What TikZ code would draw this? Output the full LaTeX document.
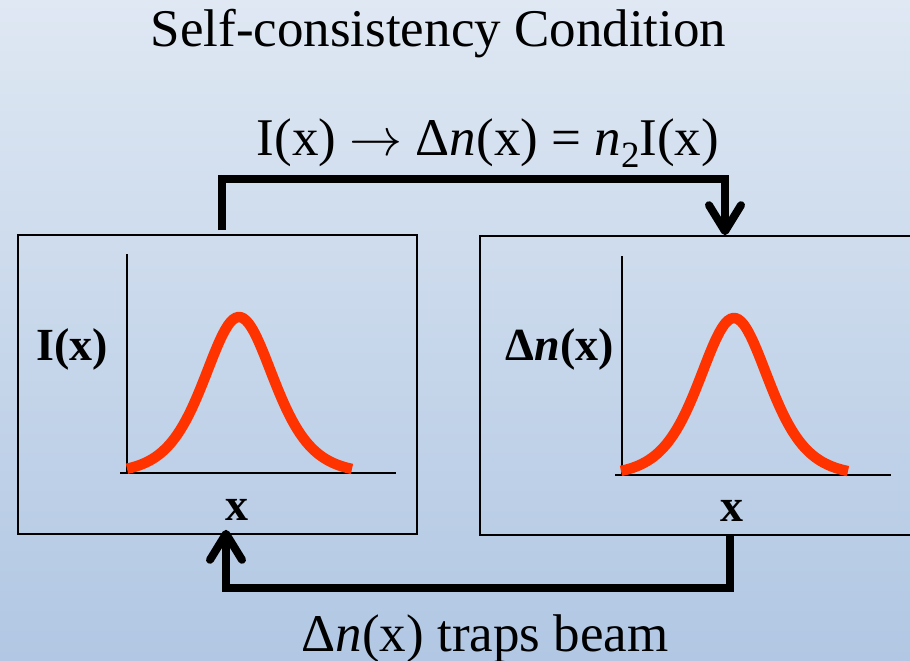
\documentclass[tikz,border=0pt]{standalone}
\usepackage{fontspec}
\setmainfont{Liberation Serif}
\DeclareFontShape{OMS}{cmsy}{m}{n}{<->cmsy10}{}
\usetikzlibrary{arrows.meta,calc}
\definecolor{bgtop}{HTML}{DFE8F3}
\definecolor{bgbot}{HTML}{B1C7E3}
\definecolor{beamred}{HTML}{FF3300}
\begin{document}
\begin{tikzpicture}[x=1pt,y=-1pt,
  panel/.style={draw=black, line width=1.6pt, inner sep=0pt, minimum height=299pt},
  conn/.style={line width=8pt, -{Straight Barb[length=26pt,width=32pt,round]}},
  axisline/.style={line width=1.3pt},
  beam/.style={draw=beamred, line width=10.5pt},
  big/.style={font=\fontsize{53}{60}\selectfont, inner sep=0pt},
  lab/.style={font=\fontsize{46}{50}\selectfont\bfseries, inner sep=0pt}]
\useasboundingbox (0,0) rectangle (910,661);
\shade[top color=bgtop, bottom color=bgbot] (0,0) rectangle (910,661);
\clip (0,0) rectangle (910,661);

% panels
\node[panel, minimum width=399pt] (lbox) at (217.5,384.5) {};
\node[panel, minimum width=450pt] (rbox) at (705,385.5) {};

% axes
\draw[axisline] (127,254) -- (127,473);
\draw[axisline] (120,473) -- (396,473);
\draw[axisline] (622,256) -- (622,475);
\draw[axisline] (615,475) -- (891,475);

% beams
\draw[beam] plot[domain=127:352, samples=90, smooth] ({\x}, {474-157/(cosh((\x-239)/47))^2});
\draw[beam] plot[domain=621:848, samples=90, smooth] ({\x}, {476-158/(cosh((\x-734)/47))^2});

% labels
\node[lab, anchor=base] (ilab) at (72,360) {I(x)};
\node[lab, anchor=base] (nlab) at (560,360) {Δ\textit{n}(x)};
\node[lab, anchor=base] (xl) at (237,520) {x};
\node[lab, anchor=base] (xr) at (732,521) {x};

% texts
\node[big, anchor=base] (title) at (438.5,47) {Self-consistency Condition};
\node[big, anchor=base] (eq) at (488,155) {I(x) $\rightarrow$ Δ\textit{n}(x) = \textit{n}\raisebox{-0.24em}{\fontsize{37}{37}\selectfont 2}I(x)};
\node[big, anchor=base] (cap) at (485,651) {Δ\textit{n}(x) traps beam};

% connectors
\coordinate (tl) at (221.5,178.5);
\coordinate (tr) at (725,178.5);
\draw[conn, shorten <=4pt] (lbox.north -| tl) -- (tl) -- (tr) -- (rbox.north -| tr);
\coordinate (br) at (729.5,588);
\coordinate (bl) at (226,588);
\draw[conn, shorten >=-5pt] (rbox.south -| br) -- (br) -- (bl) -- (lbox.south -| bl);
\end{tikzpicture}
\end{document}
